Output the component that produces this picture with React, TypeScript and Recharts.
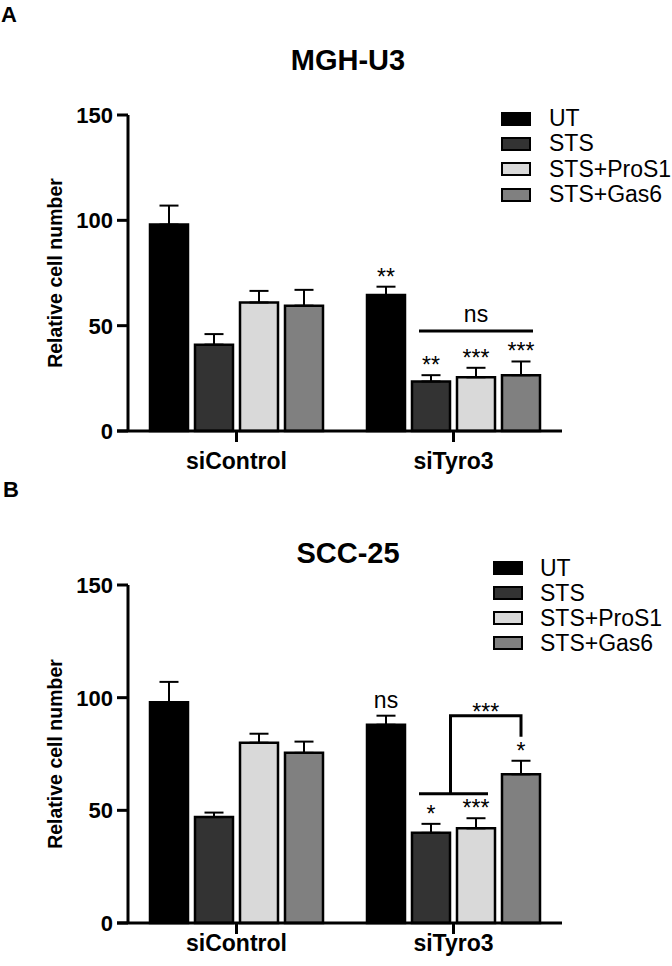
import React from 'react';
import { BarChart, Bar, XAxis, YAxis, ErrorBar, LabelList, ReferenceLine } from 'recharts';

const FONT = '"Liberation Sans", Arial, sans-serif';

const groups = ['siControl', 'siTyro3'];
const treatments = ['UT', 'STS', 'STS+ProS1', 'STS+Gas6'];
const fills = ['#000000', '#333333', '#d9d9d9', '#808080'];
const yTicks = [0, 50, 100, 150];

// MGH-U3 — each array is [siControl, siTyro3]
const mghUT = [98, 64.5];
const mghSTS = [41, 23.5];
const mghProS1 = [61, 25.5];
const mghGas6 = [59.5, 26.5];
const mghUTErr = [9, 4];
const mghSTSErr = [5, 3];
const mghProS1Err = [5.5, 4.5];
const mghGas6Err = [7.5, 6.5];
const mghStars = [['', '**'], ['', '**'], ['', '***'], ['', '***']];
const mghNsLevel = 47.5;

// SCC-25
const sccUT = [98, 88];
const sccSTS = [47, 40];
const sccProS1 = [80, 42];
const sccGas6 = [75.5, 66];
const sccUTErr = [9, 4];
const sccSTSErr = [2, 4];
const sccProS1Err = [4, 4.5];
const sccGas6Err = [5, 6];
const sccStars = [['', 'ns'], ['', '*'], ['', '***'], ['', '*']];
const sccLowLevel = 57.4;
const sccHighLevel = 92;
const sccDropLevel = 82.7;

const BAR = 38;
const GAP = 7;

function buildRows(means: number[][], errs: number[][]) {
  return groups.map((g, gi) => {
    const row: any = { group: g };
    treatments.forEach((_, ti) => {
      row[`v${ti}`] = means[ti][gi];
      row[`e${ti}`] = [0, errs[ti][gi]];
    });
    return row;
  });
}

const YTick = (props: any) => {
  const { x, y, payload } = props;
  return (
    <g>
      <line x1={x} x2={x + 11} y1={y} y2={y} stroke="#000" strokeWidth={3} />
      <text x={x - 4} y={y} dy="0.36em" textAnchor="end" fontSize={22} fontWeight={700} fontFamily={FONT} fill="#000">
        {payload.value}
      </text>
    </g>
  );
};

type Geo = { x: number; y: number; width: number; height: number; k: number };

const starLabel = (means: number[], errs: number[], stars: string[], extra?: (g: Geo) => React.ReactNode) =>
  (props: any) => {
    const vb = props.viewBox ?? props;
    const x = Number(props.x ?? vb.x);
    const y = Number(props.y ?? vb.y);
    const width = Number(props.width ?? vb.width);
    const height = Math.abs(Number(props.height ?? vb.height));
    const i = props.index;
    const k = height / means[i];
    const errTop = y - errs[i] * k;
    const s = stars[i];
    return (
      <g>
        {s && (
          <text x={x + width / 2} y={errTop - (s === 'ns' ? 8 : 2)} textAnchor="middle" fontSize={23} fontFamily={FONT} fill="#000">
            {s}
          </text>
        )}
        {extra && i === 1 && extra({ x, y, width, height, k })}
      </g>
    );
  };

// "ns" line across the three STS bars of siTyro3 (drawn from the Gas6 bar)
const mghBracket = ({ x, y, height, width, k }: Geo) => {
  const base = y + height;
  const ly = base - mghNsLevel * k;
  const left = x - 2 * (width + GAP) + 7;
  const right = x + width - 7;
  return (
    <g>
      <line x1={left} x2={right} y1={ly} y2={ly} stroke="#000" strokeWidth={3} />
      <text x={(left + right) / 2} y={ly - 9} textAnchor="middle" fontSize={23} fontFamily={FONT} fill="#000">ns</text>
    </g>
  );
};

const sccBracket = ({ x, y, height, width, k }: Geo) => {
  const base = y + height;
  const lowY = base - sccLowLevel * k;
  const highY = base - sccHighLevel * k;
  const dropY = base - sccDropLevel * k;
  const left = x - 2 * (width + GAP) + 7;
  const right = x - (width + GAP) + width - 7;
  const mid = (left + right) / 2 - 3;
  const gasMid = x + width / 2;
  return (
    <g>
      <line x1={left} x2={right} y1={lowY} y2={lowY} stroke="#000" strokeWidth={3} />
      <polyline points={`${mid},${lowY} ${mid},${highY} ${gasMid},${highY} ${gasMid},${dropY}`} fill="none" stroke="#000" strokeWidth={3} />
      <text x={(mid + gasMid) / 2} y={highY + 4.5} textAnchor="middle" fontSize={23} fontFamily={FONT} fill="#000">***</text>
    </g>
  );
};

function TreatmentLegend({ left, top, gap, rowH }: { left: number; top: number; gap: number; rowH: number }) {
  return (
    <div style={{ position: 'absolute', left, top, fontFamily: FONT, fontSize: 23, color: '#000' }}>
      {treatments.map((t, i) => (
        <div key={t} style={{ display: 'flex', alignItems: 'center', height: rowH, whiteSpace: 'nowrap' }}>
          <span style={{ display: 'inline-block', width: 30, height: 14, background: fills[i], border: '2.5px solid #000', boxSizing: 'border-box', marginRight: gap }} />
          <span>{t}</span>
        </div>
      ))}
    </div>
  );
}

type PanelProps = {
  top: number;
  height: number;
  axisHeight: number;
  labelMargin: number;
  means: number[][];
  errs: number[][];
  stars: string[][];
  bracket: (g: Geo) => React.ReactNode;
  legendLeft: number;
  legendTop: number;
  legendGap: number;
  legendRow: number;
};

function Panel(p: PanelProps) {
  const rows = buildRows(p.means, p.errs);
  return (
    <div style={{ position: 'absolute', left: 0, top: p.top, width: 672, height: p.height }}>
      <BarChart
        width={672}
        height={p.height}
        data={rows}
        margin={{ top: 115, right: 110, bottom: 0, left: 0 }}
        barGap={GAP}
      >
        <XAxis
          dataKey="group"
          height={p.axisHeight}
          padding={{ left: 11, right: 0 }}
          axisLine={{ stroke: '#000', strokeWidth: 3 }}
          tickLine={{ stroke: '#000', strokeWidth: 3 }}
          tickSize={11}
          tickMargin={p.labelMargin}
          tick={{ fontSize: 23, fontWeight: 700, fill: '#000', fontFamily: FONT }}
        />
        <YAxis
          width={117}
          domain={[0, 150]}
          ticks={yTicks}
          axisLine={false}
          tickLine={false}
          tickSize={0}
          tickMargin={0}
          tick={<YTick />}
          label={{
            value: 'Relative cell number',
            angle: -90,
            position: 'center',
            dx: -3,
            style: { fontSize: 19.5, fontWeight: 700, fill: '#000', fontFamily: FONT },
          }}
        />
        <ReferenceLine x="siControl" position="start" stroke="#000" strokeWidth={3} ifOverflow="visible" />
        {treatments.map((t, ti) => (
          <Bar
            key={t}
            dataKey={`v${ti}`}
            name={t}
            fill={fills[ti]}
            stroke="#000"
            strokeWidth={2.5}
            barSize={BAR}
            isAnimationActive={false}
          >
            <ErrorBar dataKey={`e${ti}`} direction="y" width={9.5} stroke="#000" strokeWidth={2} />
            <LabelList
              dataKey={`v${ti}`}
              content={starLabel(p.means[ti], p.errs[ti], p.stars[ti], ti === 3 ? p.bracket : undefined)}
            />
          </Bar>
        ))}
      </BarChart>
      <TreatmentLegend left={p.legendLeft} top={p.legendTop} gap={p.legendGap} rowH={p.legendRow} />
    </div>
  );
}

export default function App() {
  return (
    <div style={{ position: 'absolute', left: 0, top: 0, width: 672, height: 966, background: '#fff', overflow: 'hidden' }}>
      <Panel
        top={0}
        height={480}
        axisHeight={49}
        labelMargin={11}
        means={[mghUT, mghSTS, mghProS1, mghGas6]}
        errs={[mghUTErr, mghSTSErr, mghProS1Err, mghGas6Err]}
        stars={mghStars}
        bracket={mghBracket}
        legendLeft={501}
        legendTop={106}
        legendGap={18}
        legendRow={25.3}
      />
      <Panel
        top={470}
        height={496}
        axisHeight={43}
        labelMargin={1}
        means={[sccUT, sccSTS, sccProS1, sccGas6]}
        errs={[sccUTErr, sccSTSErr, sccProS1Err, sccGas6Err]}
        stars={sccStars}
        bracket={sccBracket}
        legendLeft={493}
        legendTop={85.5}
        legendGap={17}
        legendRow={25}
      />
      <svg width={672} height={966} style={{ position: 'absolute', left: 0, top: 0, pointerEvents: 'none' }}>
        <g fontFamily={FONT} fontWeight={700} fill="#000">
          <text x={1} y={22} fontSize={22}>A</text>
          <text x={3} y={497} fontSize={22}>B</text>
          <text x={348} y={70} fontSize={29} textAnchor="middle">MGH-U3</text>
          <text x={348} y={562.5} fontSize={29} textAnchor="middle">SCC-25</text>
        </g>
      </svg>
    </div>
  );
}
